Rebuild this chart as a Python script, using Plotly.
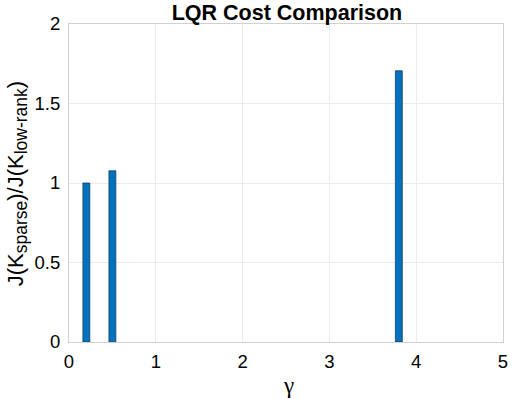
import plotly.graph_objects as go

gamma = [0.2, 0.5, 3.8]
cost_ratio = [1.0, 1.077, 1.706]
x_ticks = [0, 1, 2, 3, 4, 5]
y_ticks = [0, 0.5, 1, 1.5, 2]
y_tick_text = ["0", "0.5", "1", "1.5", "2"]

W, H = 512, 399
L, R, T, B = 68.5, 9, 24, 56.5
pw, ph = W - L - R, H - T - B

fig = go.Figure()
fig.add_trace(go.Bar(
    x=gamma, y=cost_ratio, width=0.08,
    marker=dict(color="#0072BD", line=dict(color="#1f3f66", width=0.8)),
))

font_main = "Liberation Sans, Arial, Helvetica, sans-serif"
fig.update_layout(
    width=W, height=H,
    margin=dict(l=L, r=R, t=T, b=B, autoexpand=False),
    paper_bgcolor="white", plot_bgcolor="white",
    showlegend=False,
    title=dict(text="<b>LQR Cost Comparison</b>", x=287 / W, xanchor="center", y=1 - 12 / H, yanchor="middle",
               font=dict(family=font_main, size=21.5, color="black")),
    font=dict(family=font_main, size=16, color="black"),
)
fig.update_xaxes(
    range=[0, 5], tickvals=x_ticks, ticks="outside", ticklen=3, tickcolor="white",
    showgrid=True, gridcolor="#ebebeb", gridwidth=1,
    showline=True, linecolor="#d0d0d0", linewidth=1, mirror=True,
    zeroline=False, automargin=False,
    tickfont=dict(size=18.5),
)
fig.update_yaxes(
    range=[0, 2], tickvals=y_ticks, ticktext=y_tick_text, ticks="outside", ticklen=4, tickcolor="white",
    showgrid=True, gridcolor="#ebebeb", gridwidth=1,
    showline=True, linecolor="#d0d0d0", linewidth=1, mirror=True,
    zeroline=False, automargin=False,
    tickfont=dict(size=18.5),
)
fig.add_annotation(
    text=("J(K<sub><span style='font-size:17.5px'>sparse</span></sub>)/"
          "J(K<sub><span style='font-size:17.5px'>low-rank</span></sub>)"),
    xref="paper", yref="paper",
    x=(17 - L) / pw, y=(H - B - 184) / ph,
    xanchor="center", yanchor="middle", textangle=-90, showarrow=False,
    font=dict(family=font_main, size=22, color="black"),
)
fig.add_annotation(
    text="γ",
    xref="paper", yref="paper",
    x=(288 - L) / pw, y=(H - B - 386) / ph,
    xanchor="center", yanchor="middle", showarrow=False,
    font=dict(family="Liberation Serif, Times New Roman, serif", size=23, color="black"),
)
fig.write_html(
    "out.html",
    config={"displayModeBar": False},
    post_script="document.body.style.margin='0';document.body.style.overflow='hidden';",
)
